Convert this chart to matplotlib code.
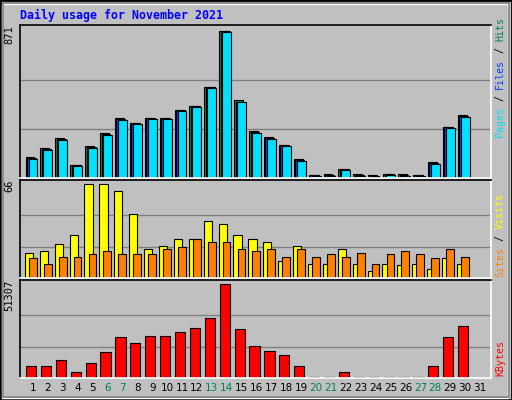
import matplotlib.pyplot as plt
from matplotlib.patches import Rectangle

days = list(range(1, 32))
hits = [122, 175, 234, 79, 191, 268, 357, 327, 357, 357, 404, 428, 540, 871, 459, 280, 244, 197, 114, 20, 26, 55, 26, 16, 26, 26, 20, 97, 304, 374, 0]
pages = [114, 167, 227, 73, 179, 256, 345, 321, 351, 351, 398, 422, 534, 865, 447, 268, 232, 191, 102, 14, 14, 49, 14, 6, 20, 14, 14, 85, 298, 362, 0]
files = [p + 3 if p else 0 for p in pages]
visits = [17.5, 19, 24, 30, 66, 66, 61, 45, 20, 22.5, 27, 27, 40, 38, 30, 27, 25, 12, 22.5, 9.5, 10, 20, 10, 5, 10, 9, 9.5, 6.5, 14, 9.5, 0]
sites = [14, 9.5, 14.5, 14.5, 17, 19, 17, 17, 17, 20, 22, 27, 25, 25, 20, 19, 20, 15, 20, 14.5, 17, 14.5, 17.5, 10, 17, 19, 17, 14, 20, 14.5, 0]
kbytes = [6400, 6400, 9700, 3000, 8100, 14200, 22100, 19300, 22600, 22600, 24800, 27100, 32700, 51307, 26500, 17600, 14800, 12500, 6400, 700, 700, 3000, 700, 700, 700, 700, 700, 6400, 22100, 28300, 0]
weekend = [6, 7, 13, 14, 20, 21, 27, 28]

C_HITS, C_FILES, C_PAGES = '#00805c', '#0040ff', '#00e0ff'
C_VISITS, C_SITES, C_KB = '#ffff00', '#ff8000', '#ff0000'
BG = '#c0c0c0'
mono = 'DejaVu Sans Mono'

W, H = 512, 400
fig = plt.figure(figsize=(W / 100, H / 100), dpi=100)
fig.patch.set_facecolor(BG)
fig.add_artist(Rectangle((0, 0), 1, 1, transform=fig.transFigure, fill=False, lw=2, ec='black'))
fig.add_artist(Rectangle((2 / W, 2 / H), 1 - 6 / W, 1 - 6 / H, transform=fig.transFigure, fill=False, lw=1, ec='white'))
fig.add_artist(Rectangle((3 / W, 3 / H), 1 - 6 / W, 1 - 6 / H, transform=fig.transFigure, fill=False, lw=1.2, ec='#808080'))


def make_ax(top, bottom, vmax):
    ax = fig.add_axes([20 / W, 1 - bottom / H, 471 / W, (bottom - top) / H])
    ax.set_facecolor(BG)
    ax.set_xlim(1 - 13 / 14.9, 31 + 11 / 14.9)
    ax.set_ylim(0, vmax * 1.04)
    for g in (vmax / 3, 2 * vmax / 3):
        ax.axhline(g, color='#808080', lw=1, zorder=0)
    ax.set_xticks([])
    ax.set_yticks([])
    for s in ('top', 'left'):
        ax.spines[s].set_color('black')
    for s in ('bottom', 'right'):
        ax.spines[s].set_color('white')
    for s in ax.spines.values():
        s.set_linewidth(1.2)
    return ax


kw = dict(edgecolor='black', linewidth=0.8, align='edge')
ax1 = make_ax(25, 178, max(hits))
x = [d for d in days]
ax1.bar([d - 0.5 for d in x], hits, width=0.6, color=C_HITS, **kw)
ax1.bar([d - 0.4 for d in x], files, width=0.6, color=C_FILES, **kw)
ax1.bar([d - 0.3 for d in x], pages, width=0.6, color=C_PAGES, **kw)

ax2 = make_ax(180, 278, max(visits))
ax2.bar([d - 0.55 for d in x], visits, width=0.55, color=C_VISITS, **kw)
ax2.bar([d - 0.27 for d in x], sites, width=0.52, color=C_SITES, **kw)

ax3 = make_ax(280, 378, max(kbytes))
ax3.bar([d - 0.47 for d in x], kbytes, width=0.68, color=C_KB, **kw)

fig.text(20 / W, 1 - 15 / H, 'Daily usage for November 2021', color='#0000ff',
         family=mono, fontsize=8.4, fontweight='bold', va='center')

for ax, lab in ((ax1, '871'), (ax2, '66'), (ax3, '51307')):
    ax.text(-0.012, 1, lab, transform=ax.transAxes, rotation=90, ha='right', va='top',
            family=mono, fontsize=7.5)

for d in days:
    ax3.text(d, -0.1, str(d), transform=ax3.get_xaxis_transform(), ha='center', va='center',
             fontsize=7.5, color=C_HITS if d in weekend else 'black')


def side_label(bottom, parts, fs=7.2):
    # stack rotated pieces bottom-up from the panel bottom
    cw = fs * 100 / 72 * 0.602
    y = bottom
    for txt, col in parts:
        fig.text(500 / W, 1 - y / H, txt, rotation=90, color=col, family=mono,
                 fontsize=fs, ha='center', va='bottom')
        y -= cw * len(txt)


side_label(137, [('Pages', C_PAGES), (' / ', 'black'), ('Files', C_FILES), (' / ', 'black'), ('Hits', C_HITS)])
side_label(277, [('Sites', C_SITES), (' / ', 'black'), ('Visits', C_VISITS)])
side_label(376, [('KBytes', C_KB)])

fig.savefig('out.png', dpi=100, facecolor=BG)
